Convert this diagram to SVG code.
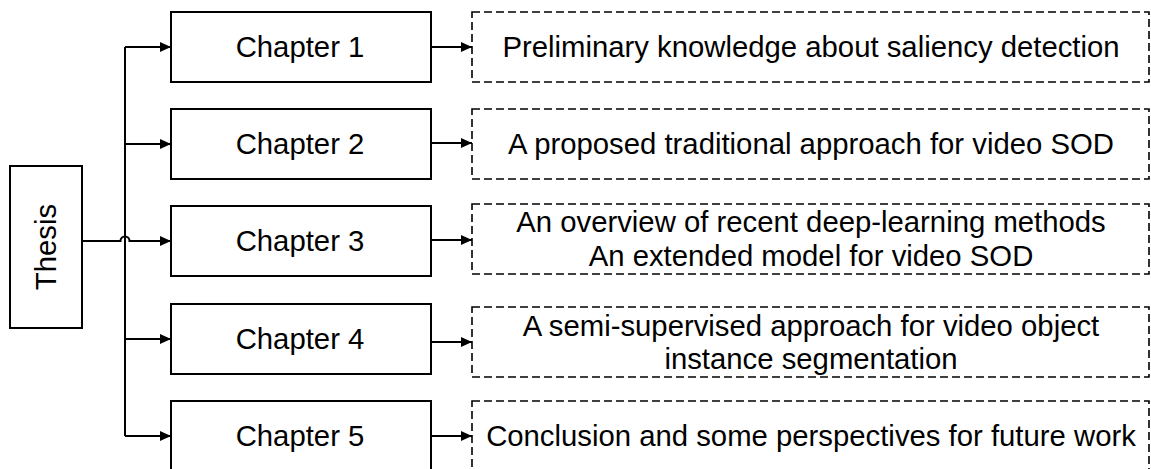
<svg xmlns="http://www.w3.org/2000/svg" width="1151" height="469" viewBox="0 0 1151 469">
  <style>
    .box { fill: #ffffff; stroke: #000000; stroke-width: 2; }
    .note { fill: #ffffff; stroke: #000000; stroke-width: 1.6; stroke-dasharray: 8 4; }
    .lbl { font-family: "Liberation Sans", Arial, sans-serif; font-size: 29.3px; fill: #000000; text-anchor: middle; }
    .wire { fill: none; stroke: #000000; stroke-width: 2; }
  </style>
  <defs>
    <marker id="arrow" markerUnits="userSpaceOnUse" markerWidth="12" markerHeight="12" refX="11" refY="5" orient="auto">
      <path d="M0,0 L11,5 L0,10 Z" fill="#000000"/>
    </marker>
  </defs>
  <rect width="1151" height="469" fill="#ffffff"/>

  <!-- Root node -->
  <g id="thesis">
    <rect class="box" x="10" y="166" width="72" height="162"/>
    <text class="lbl" transform="translate(55.5,247) rotate(-90)" x="0" y="0">Thesis</text>
  </g>

  <!-- Chapter nodes -->
  <g id="chapter1">
    <rect class="box" x="171" y="12" width="260" height="70"/>
    <text class="lbl" x="300" y="57">Chapter 1</text>
  </g>
  <g id="chapter2">
    <rect class="box" x="171" y="109" width="260" height="70"/>
    <text class="lbl" x="300" y="154">Chapter 2</text>
  </g>
  <g id="chapter3">
    <rect class="box" x="171" y="206" width="260" height="70"/>
    <text class="lbl" x="300" y="251">Chapter 3</text>
  </g>
  <g id="chapter4">
    <rect class="box" x="171" y="304" width="260" height="70"/>
    <text class="lbl" x="300" y="349">Chapter 4</text>
  </g>
  <g id="chapter5">
    <rect class="box" x="171" y="401" width="260" height="70"/>
    <text class="lbl" x="300" y="446">Chapter 5</text>
  </g>

  <!-- Chapter descriptions -->
  <g id="desc1">
    <rect class="note" x="472" y="12" width="677" height="70"/>
    <text class="lbl" x="811" y="57">Preliminary knowledge about saliency detection</text>
  </g>
  <g id="desc2">
    <rect class="note" x="472" y="109" width="677" height="70"/>
    <text class="lbl" x="811" y="154">A proposed traditional approach for video SOD</text>
  </g>
  <g id="desc3">
    <rect class="note" x="472" y="204" width="677" height="70"/>
    <text class="lbl" x="811" y="232">An overview of recent deep-learning methods</text>
    <text class="lbl" x="811" y="266">An extended model for video SOD</text>
  </g>
  <g id="desc4">
    <rect class="note" x="472" y="307" width="677" height="70"/>
    <text class="lbl" x="811" y="336">A semi-supervised approach for video object</text>
    <text class="lbl" x="811" y="369">instance segmentation</text>
  </g>
  <g id="desc5">
    <rect class="note" x="472" y="401" width="677" height="70"/>
    <text class="lbl" x="811" y="446">Conclusion and some perspectives for future work</text>
  </g>

  <!-- Connectors -->
  <g id="connectors">
    <!-- trunk -->
    <path class="wire" d="M125,47 V436"/>
    <path class="wire" d="M125,47 H171" marker-end="url(#arrow)"/>
    <path class="wire" d="M125,144 H171" marker-end="url(#arrow)"/>
    <path class="wire" d="M125,339 H171" marker-end="url(#arrow)"/>
    <path class="wire" d="M125,436 H171" marker-end="url(#arrow)"/>
    <!-- root to chapter 3, hopping over the trunk -->
    <path class="wire" d="M82,241 H120.5 A4.5,4.5 0 0 1 129.5,241 H171" marker-end="url(#arrow)"/>
    <!-- chapters to descriptions -->
    <path class="wire" d="M431,47 H472" marker-end="url(#arrow)"/>
    <path class="wire" d="M431,143 H472" marker-end="url(#arrow)"/>
    <path class="wire" d="M431,240 H472" marker-end="url(#arrow)"/>
    <path class="wire" d="M431,342 H472" marker-end="url(#arrow)"/>
    <path class="wire" d="M431,436 H472" marker-end="url(#arrow)"/>
  </g>
</svg>
